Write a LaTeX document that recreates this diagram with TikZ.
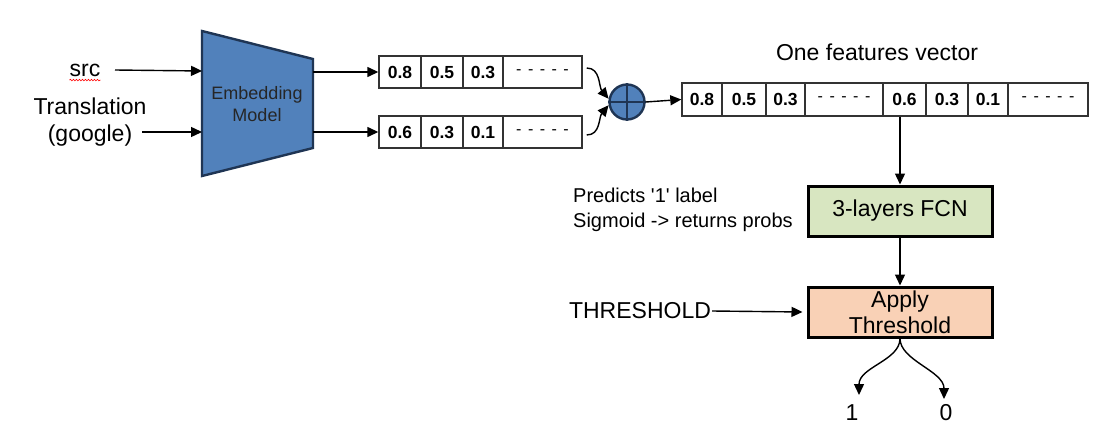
\documentclass[tikz,border=0pt]{standalone}
\usepackage{fontspec}
\setmainfont{Liberation Sans}
\usetikzlibrary{arrows.meta,decorations.pathmorphing,calc}
\definecolor{embblue}{HTML}{5181BB}
\definecolor{embedge}{HTML}{1F3554}
\definecolor{fcngreen}{HTML}{D8E6C1}
\definecolor{thrpeach}{HTML}{F9D1B6}
\definecolor{cellline}{HTML}{333333}
\newcommand{\fs}[1]{\fontsize{#1}{#1}\selectfont}
\newcommand{\dashcell}{-\hspace{6.5pt}-\hspace{6.5pt}-\hspace{6.5pt}-\hspace{6.5pt}-}
\newcommand{\vcell}[6]{\node[vcell, minimum width={(#3-#2)}, minimum height=#5] (#1) at ({(#2+#3)/2},#4) {#6};}
\begin{document}
\begin{tikzpicture}[x=1pt,y=-1pt,
  arr/.style={-{Triangle[length=11pt,width=10pt]}, line width=1.4pt, black},
  vcell/.style={draw=cellline, line width=1.4pt, inner sep=0pt, font=\bfseries\fs{17.5}},
  dcell/.style={font=\fs{16}},
  txt/.style={inner sep=1pt, font=\fs{23}, align=center},
  proc/.style={draw=black, line width=3pt, minimum width=184, minimum height=50, inner sep=0pt, font=\fs{23}, align=center}
]
\fill[white] (0,0) rectangle (1113,444);
\useasboundingbox (0,0) rectangle (1113,444);

% inputs
\node[txt] (src) at (85,70) {src};
\draw[red, line width=0.6pt, decorate, decoration={snake, amplitude=0.8pt, segment length=3pt}]
  ($(src.base west)+(1,4)$) -- ($(src.base east)+(-1,4)$);
\node[txt, font=\fs{23}\linespread{1.2}\selectfont] (trans) at (90,122) {Translation\\(google)};

% embedding model trapezoid
\coordinate (etl) at (202,31);
\coordinate (ebl) at (202,176);
\coordinate (etr) at (313,59);
\coordinate (ebr) at (313,148);
\draw[fill=embblue, draw=embedge, line width=2.4pt, line join=miter] (etl) -- (etr) -- (ebr) -- (ebl) -- cycle;
\node[txt, font=\fs{18}\linespread{1.2}\selectfont, text=black!85] (emb) at (257,104) {Embedding\\Model};
\coordinate (ein1) at (202,71);
\coordinate (ein2) at (202,132);
\coordinate (eout1) at (313,72);
\coordinate (eout2) at (313,132);
\draw[arr] (src.east -| 115,0) -- (ein1);
\draw[arr] (142,132) coordinate (tin) -- (ein2);

% vector 1
\vcell{v1a}{379}{421}{72}{32}{0.8}
\vcell{v1b}{421}{463}{72}{32}{0.5}
\vcell{v1c}{463}{503}{72}{32}{0.3}
\vcell{v1d}{503}{582}{72}{32}{}
\node[dcell] at (v1d) {\dashcell};
% vector 2
\vcell{v2a}{379}{421}{132}{32}{0.6}
\vcell{v2b}{421}{463}{132}{32}{0.3}
\vcell{v2c}{463}{503}{132}{32}{0.1}
\vcell{v2d}{503}{582}{132}{32}{}
\node[dcell] at (v2d) {\dashcell};

\draw[arr] (eout1) -- (v1a.west);
\draw[arr] (eout2) -- (v2a.west);

% plus
\node[circle, fill=embblue, draw=embedge, line width=2.4pt, minimum size=35, inner sep=0pt] (plus) at (627,102) {};
\draw[embedge, line width=2.4pt] (plus.north) -- (plus.south) (plus.west) -- (plus.east);

\draw[arr] ($(v1d.east)+(4,-4)$) .. controls +(14,0) and +(-10,-12) .. (plus.170);
\draw[arr] ($(v2d.east)+(4,3)$) .. controls +(14,0) and +(-10,12) .. (plus.190);

% big vector
\vcell{b1a}{682}{722}{99.5}{33}{0.8}
\vcell{b1b}{722}{766}{99.5}{33}{0.5}
\vcell{b1c}{766}{805}{99.5}{33}{0.3}
\vcell{b1d}{805}{883}{99.5}{33}{}
\node[dcell] at (b1d) {\dashcell};
\vcell{b2a}{883}{926}{99.5}{33}{0.6}
\vcell{b2b}{926}{968}{99.5}{33}{0.3}
\vcell{b2c}{968}{1008}{99.5}{33}{0.1}
\vcell{b2d}{1008}{1088}{99.5}{33}{}
\node[dcell] at (b2d) {\dashcell};
\draw[arr] (plus.east) -- (b1a.west);
\node[txt] (title) at (877,52) {One features vector};

% FCN and threshold
\node[proc, fill=fcngreen] (fcn) at (900,211) {3-layers FCN};
\node[proc, fill=thrpeach, font=\fs{23}\linespread{1.13}\selectfont] (apply) at (900,312) {Apply\\Threshold};
\draw[arr] (b2a.south -| fcn.north) -- (fcn.north);
\draw[arr] (fcn.south) -- (apply.north);

\node[anchor=west, align=left, inner sep=0pt, font=\fs{20}\linespread{1.25}\selectfont] (pred) at (573,209.5)
  {Predicts \textquotesingle1\textquotesingle\ label\\Sigmoid -> returns probs};

\node[txt] (thr) at (640,311) {THRESHOLD};
\draw[arr] (thr.east) -- ([xshift=-4]apply.west);

% outputs
\node[txt] (one) at (852,413) {1};
\node[txt] (zero) at (946,413) {0};
\coordinate (t1) at (859,395);
\coordinate (t0) at (944,399);
\draw[arr] (apply.south) .. controls +(0,22) and +(0,-28) .. (t1);
\draw[arr] (apply.south) .. controls +(0,22) and +(0,-28) .. (t0);
\end{tikzpicture}
\end{document}
